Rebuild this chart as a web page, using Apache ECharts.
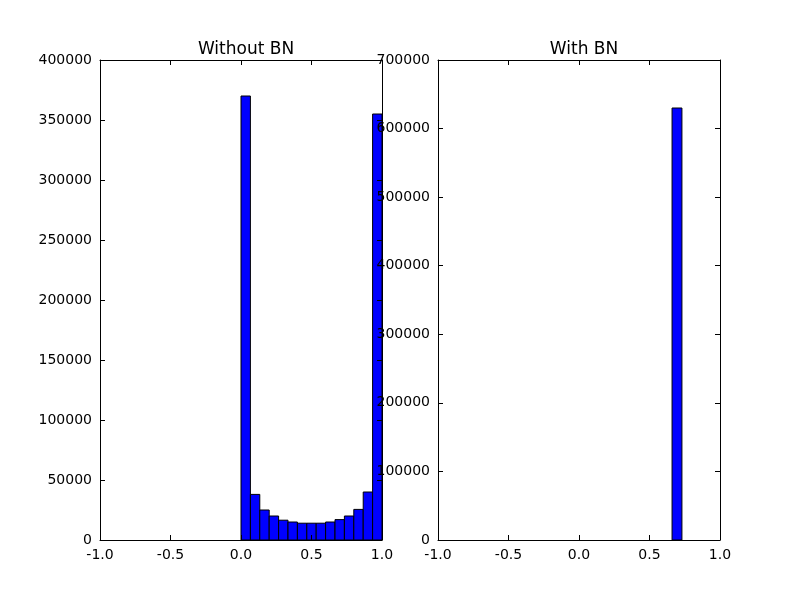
<!DOCTYPE html>
<html><head><meta charset="utf-8">
<script src="https://cdn.jsdelivr.net/npm/echarts@6/dist/echarts.min.js"></script>
<style>html,body{margin:0;padding:0;background:#fff}#c{width:800px;height:600px}</style>
</head><body><div id="c"></div>
<script>
// Left: "Without BN" histogram, 15 bins over [0,1]
var leftEdges = [0,0.0667,0.1333,0.2,0.2667,0.3333,0.4,0.4667,0.5333,0.6,0.6667,0.7333,0.8,0.8667,0.9333,1.0];
var leftCounts = [370000,38000,25000,20000,16500,15000,14000,14000,14000,15000,17000,20000,25500,40000,355000];
// Right: "With BN" histogram (single visible bin)
var rightEdges = [0.66,0.73];
var rightCounts = [630000];
var titles = ["Without BN","With BN"];

function toBins(edges, counts){ return counts.map(function(c,i){return [edges[i],edges[i+1],c];}); }
function renderBar(params, api){
  var p0 = api.coord([api.value(0), 0]);
  var p1 = api.coord([api.value(1), api.value(2)]);
  return {type:'rect', shape:{x:p0[0], y:p1[1], width:p1[0]-p0[0], height:p0[1]-p1[1]},
    style:{fill:'#0000ff', stroke:'#000', lineWidth:1}};
}
var font = 'DejaVu Sans';
function xAx(gi, show){ return {type:'value', gridIndex:gi, min:-1, max:1, interval:0.5, position: show?'bottom':'top', z:10,
  axisLine:{show:true,onZero:false,lineStyle:{color:'#000'}}, axisTick:{show:true,inside:true,length:5,lineStyle:{color:'#000'}},
  axisLabel:{show:show,color:'#000',fontFamily:font,fontSize:14,margin:8,formatter:function(v){return v.toFixed(1);}},
  splitLine:{show:false}}; }
function yAx(gi, max, iv, show){ return {type:'value', gridIndex:gi, min:0, max:max, interval:iv, position: show?'left':'right', z:10,
  axisLine:{show:true,onZero:false,lineStyle:{color:'#000'}}, axisTick:{show:true,inside:true,length:5,lineStyle:{color:'#000'}},
  axisLabel:{show:show,color:'#000',fontFamily:font,fontSize:14,margin:8,formatter:function(v){return String(v);}},
  splitLine:{show:false}}; }
var chart = echarts.init(document.getElementById('c'));
chart.setOption({
  animation:false,
  title:[
    {text:titles[0], left:241, top:36, textAlign:'center', textStyle:{fontFamily:font,fontSize:17,fontWeight:'normal',color:'#000'}},
    {text:titles[1], left:579, top:36, textAlign:'center', textStyle:{fontFamily:font,fontSize:17,fontWeight:'normal',color:'#000'}}
  ],
  grid:[{left:100,top:60,width:282,height:480},{left:438,top:60,width:282,height:480}],
  xAxis:[xAx(0,true),xAx(0,false),xAx(1,true),xAx(1,false)],
  yAxis:[yAx(0,400000,50000,true),yAx(0,400000,50000,false),yAx(1,700000,100000,true),yAx(1,700000,100000,false)],
  series:[
    {type:'custom', xAxisIndex:0, yAxisIndex:0, z:1, renderItem:renderBar, data:toBins(leftEdges,leftCounts)},
    {type:'custom', xAxisIndex:2, yAxisIndex:2, z:1, renderItem:renderBar, data:toBins(rightEdges,rightCounts)}
  ]
});
</script></body></html>
